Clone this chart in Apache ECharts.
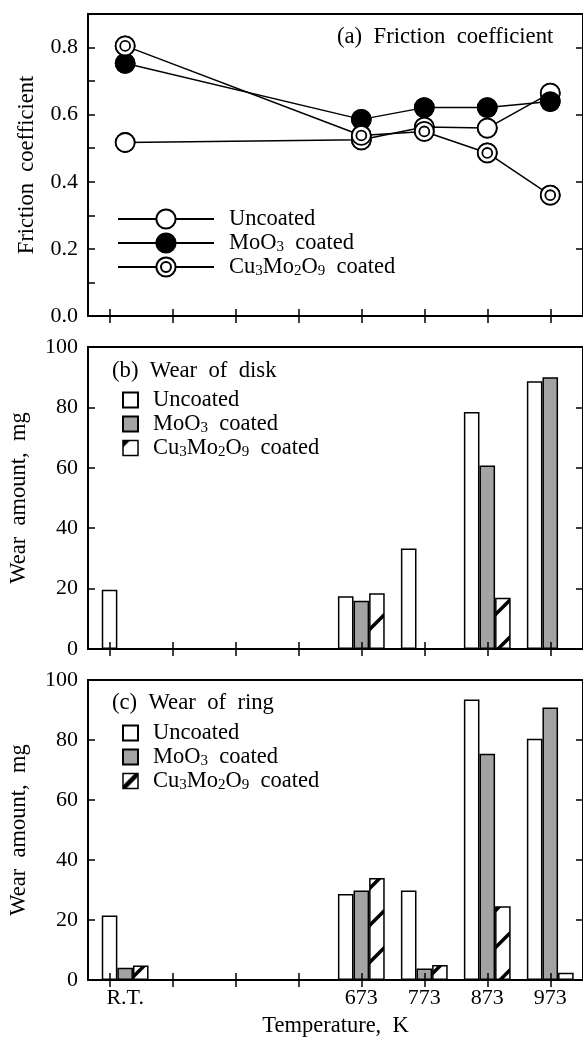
<!DOCTYPE html>
<html><head><meta charset="utf-8">
<script src="https://cdn.jsdelivr.net/npm/echarts@6/dist/echarts.min.js"></script>
<style>html,body{margin:0;padding:0;background:#fff}#c{width:583px;height:1039px}</style>
</head><body><div id="c"></div>
<script>
// ---------- data ----------
const temps = [298, 673, 773, 873, 973];
const xTickValues = [273, 373, 473, 573, 673, 773, 873, 973];
const xLabelValues = [298, 673, 773, 873, 973];
const xLabelTexts = ['R.T.', '673', '773', '873', '973'];

const fricTicks = [0, 0.1, 0.2, 0.3, 0.4, 0.5, 0.6, 0.7, 0.8];
const fricLabels = [0, 0.2, 0.4, 0.6, 0.8];
const fricRightTicks = [0.2, 0.4, 0.6, 0.8];
const wearTicks = [0, 20, 40, 60, 80, 100];
const wearLabels = [0, 20, 40, 60, 80, 100];
const wearRightTicks = [20, 40, 60, 80];

const fricUncoated = [0.517, 0.525, 0.563, 0.560, 0.664];
const fricMoO3     = [0.753, 0.586, 0.621, 0.621, 0.639];
const fricCu       = [0.805, 0.538, 0.550, 0.486, 0.360];

const diskUncoated = [19.6, 17.5, 33.3, 78.5, 88.7];
const diskMoO3     = [0.2, 16.0, 0, 60.8, 90.0];
const diskCu       = [0, 18.5, 0, 17.0, 0];

const ringUncoated = [21.5, 28.7, 29.8, 93.5, 80.4];
const ringMoO3     = [4.1, 29.8, 3.8, 75.4, 90.8];
const ringCu       = [4.8, 34.0, 5.0, 24.6, 2.4];

// ---------- helpers ----------
const FONT = 'Liberation Serif';
const pairs = (ys) => temps.map((t, i) => [t, ys[i]]);

// hatch pattern for bars
function makeHatch(size, offsets, lw) {
  const cv = document.createElement('canvas');
  cv.width = size; cv.height = size;
  const g = cv.getContext('2d');
  g.fillStyle = '#fff'; g.fillRect(0, 0, size, size);
  g.strokeStyle = '#000'; g.lineWidth = lw;
  offsets.forEach(c => {
    g.beginPath();
    g.moveTo(-size, c + size);
    g.lineTo(2 * size, c - 2 * size);
    g.stroke();
  });
  return { image: cv, repeat: 'repeat' };
}
const hatchFill = makeHatch(37, [0, 37, 74], 3.5);
const legendHatchB = makeHatch(15, [2], 7);    // black corner at top-left
const legendHatchC = makeHatch(15, [15], 4.5); // band through the middle

const dblCircle = 'path://M10,0A10,10,0,1,1,-10,0A10,10,0,1,1,10,0ZM5.2,0A5.2,5.2,0,1,1,-5.2,0A5.2,5.2,0,1,1,5.2,0Z';

const legendText = {
  'a:U': '{g|}Uncoated',
  'a:M': '{g|}MoO{s|3}  coated',
  'a:C': '{g|}Cu{s|3}Mo{s|2}O{s|9}  coated',
  'b:U': '{g|}Uncoated',
  'b:M': '{g|}MoO{s|3}  coated',
  'b:C': '{g|}Cu{s|3}Mo{s|2}O{s|9}  coated',
  'c:U': '{g|}Uncoated',
  'c:M': '{g|}MoO{s|3}  coated',
  'c:C': '{g|}Cu{s|3}Mo{s|2}O{s|9}  coated'
};
const legendTextStyle = {
  fontFamily: FONT, fontSize: 22.5, color: '#000', lineHeight: 24,
  rich: {
    g: { width: 10 },
    s: { fontFamily: FONT, fontSize: 15, color: '#000', verticalAlign: 'bottom', lineHeight: 14 }
  }
};

// ---------- layout ----------
const grids = [
  { left: 88, top: 14, width: 496, height: 302 },
  { left: 88, top: 347, width: 496, height: 302 },
  { left: 88, top: 680, width: 496, height: 302 }
];
grids.forEach(g => { g.show = true; g.borderColor = '#000'; g.borderWidth = 2; g.backgroundColor = 'transparent'; g.z = 10; });

const tickStyle = { color: '#000', width: 1.5 };
const xAxes = [];
const yAxes = [];
grids.forEach((g, i) => {
  xAxes.push({
    gridIndex: i, type: 'value', min: 239, max: 1025, position: 'bottom', z: 10,
    axisLine: { show: false }, splitLine: { show: false },
    axisTick: { show: true, inside: true, length: 7, lineStyle: tickStyle, customValues: xTickValues },
    axisLabel: {
      show: i === 2, customValues: xLabelValues, margin: 7,
      fontFamily: FONT, fontSize: 22, color: '#000',
      formatter: v => xLabelTexts[xLabelValues.indexOf(Math.round(v))] || ''
    },
    name: i === 2 ? 'Temperature,  K' : '', nameLocation: 'middle', nameGap: 35,
    nameTextStyle: { fontFamily: FONT, fontSize: 22.5, color: '#000' }
  });
  xAxes.push({
    gridIndex: i, type: 'value', min: 239, max: 1025, position: 'top', z: 10,
    axisLine: { show: false }, splitLine: { show: false },
    axisTick: { show: true, inside: true, length: 7, lineStyle: tickStyle, customValues: xTickValues },
    axisLabel: { show: false }
  });
  const isFric = i === 0;
  yAxes.push({
    gridIndex: i, type: 'value', min: 0, max: isFric ? 0.9 : 100, position: 'left', z: 10,
    axisLine: { show: false }, splitLine: { show: false },
    axisTick: { show: true, inside: true, length: 7, lineStyle: tickStyle, customValues: isFric ? fricTicks : wearTicks },
    axisLabel: {
      customValues: isFric ? fricLabels : wearLabels, margin: 10,
      fontFamily: FONT, fontSize: 22, color: '#000',
      formatter: v => isFric ? v.toFixed(1) : String(Math.round(v))
    },
    name: isFric ? 'Friction  coefficient' : 'Wear  amount,  mg',
    nameLocation: 'middle', nameRotate: 90, nameGap: isFric ? 49 : 57,
    nameTextStyle: { fontFamily: FONT, fontSize: 22.5, color: '#000' }
  });
  yAxes.push({
    gridIndex: i, type: 'value', min: 0, max: isFric ? 0.9 : 100, position: 'right', z: 10,
    axisLine: { show: false }, splitLine: { show: false },
    axisTick: { show: true, inside: true, length: 7, lineStyle: tickStyle, customValues: isFric ? fricRightTicks : wearRightTicks },
    axisLabel: { show: false }
  });
});

// ---------- series ----------
const lineDefs = [
  { key: 'a:U', data: fricUncoated, symbol: 'circle', fill: '#fff' },
  { key: 'a:M', data: fricMoO3, symbol: 'circle', fill: '#000' },
  { key: 'a:C', data: fricCu, symbol: dblCircle, fill: '#fff' }
];
const series = [];
lineDefs.forEach(d => {
  series.push({
    type: 'line', name: d.key, xAxisIndex: 0, yAxisIndex: 0, data: pairs(d.data),
    symbol: d.symbol, symbolSize: 19, showSymbol: true, z: 2, animation: false,
    lineStyle: { color: '#000', width: 1.5 },
    itemStyle: { color: d.fill, borderColor: '#000', borderWidth: 1.8 }
  });
});
lineDefs.forEach(d => {
  series.push({
    type: 'scatter', name: d.key + '_sym', xAxisIndex: 0, yAxisIndex: 0, data: pairs(d.data),
    symbol: d.symbol, symbolSize: 19, z: 3, silent: true, animation: false,
    itemStyle: { color: d.fill, borderColor: '#000', borderWidth: 1.8, opacity: 1 }
  });
});

function barSeries(prefix, axisIdx, u, m, c) {
  const defs = [
    { key: prefix + ':U', data: u, fill: '#fff' },
    { key: prefix + ':M', data: m, fill: '#a3a3a3' },
    { key: prefix + ':C', data: c, fill: hatchFill }
  ];
  defs.forEach(d => {
    series.push({
      type: 'bar', name: d.key, xAxisIndex: axisIdx, yAxisIndex: axisIdx, data: pairs(d.data),
      barWidth: 15.6, barGap: '0%', z: 2, animation: false,
      itemStyle: { color: d.fill, borderColor: '#000', borderWidth: 1.5 }
    });
  });
}
barSeries('b', 2, diskUncoated, diskMoO3, diskCu);
barSeries('c', 4, ringUncoated, ringMoO3, ringCu);

const titleStyle = { fontFamily: FONT, fontSize: 22.7, fontWeight: 'normal', color: '#000' };

const option = {
  animation: false,
  backgroundColor: '#fff',
  title: [
    { text: '(a)  Friction  coefficient', left: 337, top: 26, padding: 0, textStyle: titleStyle },
    { text: '(b)  Wear  of  disk', left: 112, top: 360, padding: 0, textStyle: titleStyle },
    { text: '(c)  Wear  of  ring', left: 112, top: 692, padding: 0, textStyle: titleStyle }
  ],
  legend: [
    { left: 117, top: 207, orient: 'vertical', itemWidth: 96, itemHeight: 24, itemGap: 0, padding: 0,
      selectedMode: false, data: ['a:U', 'a:M', 'a:C'], formatter: n => legendText[n], textStyle: legendTextStyle },
    { left: 122, top: 388, orient: 'vertical', itemWidth: 15, itemHeight: 15, itemGap: 0, padding: 0, icon: 'rect',
      selectedMode: false,
      data: ['b:U', 'b:M', { name: 'b:C', itemStyle: { color: legendHatchB, borderColor: '#000', borderWidth: 1.5 } }],
      formatter: n => legendText[n], textStyle: legendTextStyle },
    { left: 122, top: 721, orient: 'vertical', itemWidth: 15, itemHeight: 15, itemGap: 0, padding: 0, icon: 'rect',
      selectedMode: false,
      data: ['c:U', 'c:M', { name: 'c:C', itemStyle: { color: legendHatchC, borderColor: '#000', borderWidth: 1.5 } }],
      formatter: n => legendText[n], textStyle: legendTextStyle }
  ],
  grid: grids,
  xAxis: xAxes,
  yAxis: yAxes,
  series: series
};

const chart = echarts.init(document.getElementById('c'), null, { renderer: 'canvas' });
chart.setOption(option);
</script>
</body></html>
